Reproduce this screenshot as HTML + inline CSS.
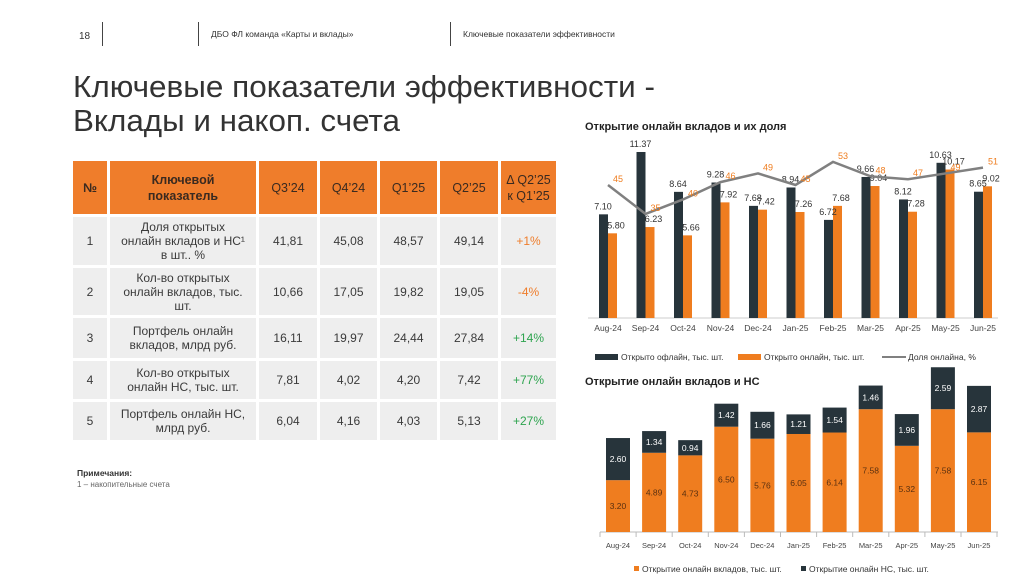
<!DOCTYPE html>
<html><head><meta charset="utf-8">
<style>
body{margin:0;width:1024px;height:576px;background:#fff;overflow:hidden;position:relative;font-family:"Liberation Sans","DejaVu Sans",sans-serif;color:#333}
.abs{position:absolute}
.vl{position:absolute;width:1px;background:#444;top:22px;height:24px}
table{position:absolute;left:70px;top:158px;border-collapse:separate;border-spacing:3px;font-size:12px;color:#3a3a3a;table-layout:fixed}
td{background:#eeeeee;text-align:center;padding:0;line-height:14px}
th{background:#ef7d2b;color:#3a2a20;font-weight:normal;font-size:12.5px;line-height:16px;padding:0}
</style></head><body>
<div class="abs" style="left:79px;top:31px;font-size:10px">18</div>
<div class="vl" style="left:102px"></div>
<div class="vl" style="left:198px"></div>
<div class="vl" style="left:450px"></div>
<div class="abs" style="left:211px;top:29px;font-size:8.5px">ДБО ФЛ команда «Карты и вклады»</div>
<div class="abs" style="left:463px;top:29px;font-size:8.5px">Ключевые показатели эффективности</div>
<svg class="abs" style="left:0;top:0" width="700" height="140">
<text x="73" y="97" font-size="31" fill="#333" textLength="582" lengthAdjust="spacingAndGlyphs" font-family="Liberation Sans, DejaVu Sans, sans-serif">Ключевые показатели эффективности -</text>
<text x="73" y="131" font-size="31" fill="#333" textLength="327" lengthAdjust="spacingAndGlyphs" font-family="Liberation Sans, DejaVu Sans, sans-serif">Вклады и накоп. счета</text>
</svg>
<table>
<colgroup><col style="width:34px"><col style="width:146px"><col style="width:58px"><col style="width:57px"><col style="width:57px"><col style="width:58px"><col style="width:55px"></colgroup>
<tr style="height:53px"><th style="font-weight:bold">№</th><th style="font-weight:bold">Ключевой<br>показатель</th><th>Q3’24</th><th>Q4’24</th><th>Q1’25</th><th>Q2’25</th><th>Δ Q2’25<br>к Q1’25</th></tr>
<tr style="height:48px"><td>1</td><td>Доля открытых<br>онлайн вкладов и НС¹<br>в шт.. %</td><td>41,81</td><td>45,08</td><td>48,57</td><td>49,14</td><td style="color:#ef7d2b">+1%</td></tr>
<tr style="height:47px"><td>2</td><td>Кол-во открытых<br>онлайн вкладов, тыс.<br>шт.</td><td>10,66</td><td>17,05</td><td>19,82</td><td>19,05</td><td style="color:#ef7d2b">-4%</td></tr>
<tr style="height:40px"><td>3</td><td>Портфель онлайн<br>вкладов, млрд руб.</td><td>16,11</td><td>19,97</td><td>24,44</td><td>27,84</td><td style="color:#2ea44f">+14%</td></tr>
<tr style="height:38px"><td>4</td><td>Кол-во открытых<br>онлайн НС, тыс. шт.</td><td>7,81</td><td>4,02</td><td>4,20</td><td>7,42</td><td style="color:#2ea44f">+77%</td></tr>
<tr style="height:38px"><td>5</td><td>Портфель онлайн НС,<br>млрд руб.</td><td>6,04</td><td>4,16</td><td>4,03</td><td>5,13</td><td style="color:#2ea44f">+27%</td></tr>
</table>
<div class="abs" style="left:77px;top:468px;font-size:8.5px;font-weight:bold">Примечания:</div>
<div class="abs" style="left:77px;top:480px;font-size:8px;color:#666">1 – накопительные счета</div>
<svg id="ch" class="abs" style="left:0;top:0" width="1024" height="576" font-family="Liberation Sans, DejaVu Sans, sans-serif"></svg>
<script>
const cats=["Aug-24","Sep-24","Oct-24","Nov-24","Dec-24","Jan-25","Feb-25","Mar-25","Apr-25","May-25","Jun-25"];
const offline=[7.10,11.37,8.64,9.28,7.68,8.94,6.72,9.66,8.12,10.63,8.65];
const online=[5.80,6.23,5.66,7.92,7.42,7.26,7.68,9.04,7.28,10.17,9.02];
const share=[45,35,40,46,49,45,53,48,47,49,51];
const deposits=[3.20,4.89,4.73,6.50,5.76,6.05,6.14,7.58,5.32,7.58,6.15];
const savings=[2.60,1.34,0.94,1.42,1.66,1.21,1.54,1.46,1.96,2.59,2.87];
const S=document.getElementById('ch'),NS='http://www.w3.org/2000/svg';
function el(t,a,txt){const e=document.createElementNS(NS,t);for(const k in a)e.setAttribute(k,a[k]);if(txt!==undefined)e.textContent=txt;S.appendChild(e);return e;}
const DARK='#27343b',OR='#ef7d1f',GR='#808080';
// chart 1
const x1=i=>608+i*37.5, y1=v=>318-v*14.6, yp=p=>185-(p-45)*2.89;
let t=el('text',{x:585,y:130,'font-size':11,'font-weight':'bold',fill:'#222'},'Открытие онлайн вкладов и их доля');

let ax=el('line',{x1:588,y1:318,x2:998,y2:318,stroke:'#ccc'});

cats.forEach((c,i)=>{
 let b=el('rect',{x:x1(i)-9,y:y1(offline[i]),width:9,height:318-y1(offline[i]),fill:DARK});
 
 let o=el('rect',{x:x1(i),y:y1(online[i]),width:9,height:318-y1(online[i]),fill:OR});
 
 let l=el('text',{x:x1(i)-5,y:y1(offline[i])-5,'font-size':9,fill:'#333','text-anchor':'middle'},offline[i].toFixed(2));
 
 let l2=el('text',{x:x1(i)+8,y:y1(online[i])-5,'font-size':9,fill:'#333','text-anchor':'middle'},online[i].toFixed(2));
 
 let xl=el('text',{x:x1(i),y:331,'font-size':8.5,fill:'#444','text-anchor':'middle'},c);
 
});
let pts=share.map((p,i)=>x1(i)+','+yp(p)).join(' ');
let pl=el('polyline',{points:pts,fill:'none',stroke:GR,'stroke-width':2.5});

share.forEach((p,i)=>{let s=el('text',{x:x1(i)+10,y:yp(p)-3,'font-size':9,fill:OR,'text-anchor':'middle'},p);
 });
let lg=[[595,'rect',DARK,'Открыто офлайн, тыс. шт.'],[738,'rect',OR,'Открыто онлайн, тыс. шт.'],[882,'line',GR,'Доля онлайна, %']];
lg.forEach(g=>{let m;
 if(g[1]=='rect')m=el('rect',{x:g[0],y:354,width:23,height:6,fill:g[2]});else m=el('line',{x1:g[0],y1:357,x2:g[0]+24,y2:357,stroke:g[2],'stroke-width':2});
 
 let tt=el('text',{x:g[0]+26,y:360,'font-size':8.5,fill:'#333'},g[3]);
 });
// chart 2
const x2=i=>618+i*36.1, y2=v=>532-v*16.2;
t=el('text',{x:585,y:385,'font-size':11,'font-weight':'bold',fill:'#222'},'Открытие онлайн вкладов и НС');

ax=el('line',{x1:600,y1:532,x2:998,y2:532,stroke:'#bbb'});

cats.forEach((c,i)=>{
 let tk=el('line',{x1:x2(i)-18,y1:532,x2:x2(i)-18,y2:537,stroke:'#bbb'});
 
 let d=deposits[i],s=savings[i];
 let b=el('rect',{x:x2(i)-12,y:y2(d),width:24,height:532-y2(d),fill:OR});
 
 let b2=el('rect',{x:x2(i)-12,y:y2(d+s),width:24,height:y2(d)-y2(d+s),fill:DARK});
 
 let l=el('text',{x:x2(i),y:(y2(d)+532)/2+3,'font-size':8.5,fill:'#5a3010','text-anchor':'middle'},d.toFixed(2));
 
 let l2=el('text',{x:x2(i),y:(y2(d)+y2(d+s))/2+3,'font-size':8.5,fill:'#fff','text-anchor':'middle'},s.toFixed(2));
 
 let xl=el('text',{x:x2(i),y:548,'font-size':7.5,fill:'#444','text-anchor':'middle'},c);
 
});
let tk=el('line',{x1:x2(10)+18,y1:532,x2:x2(10)+18,y2:537,stroke:'#bbb'});

[[634,OR,'Открытие онлайн вкладов, тыс. шт.'],[801,DARK,'Открытие онлайн НС, тыс. шт.']].forEach(g=>{
 let m=el('rect',{x:g[0],y:566,width:5,height:5,fill:g[1]});
 
 let tt=el('text',{x:g[0]+8,y:572,'font-size':8.5,fill:'#333'},g[2]);
 });
</script>
</body></html>
